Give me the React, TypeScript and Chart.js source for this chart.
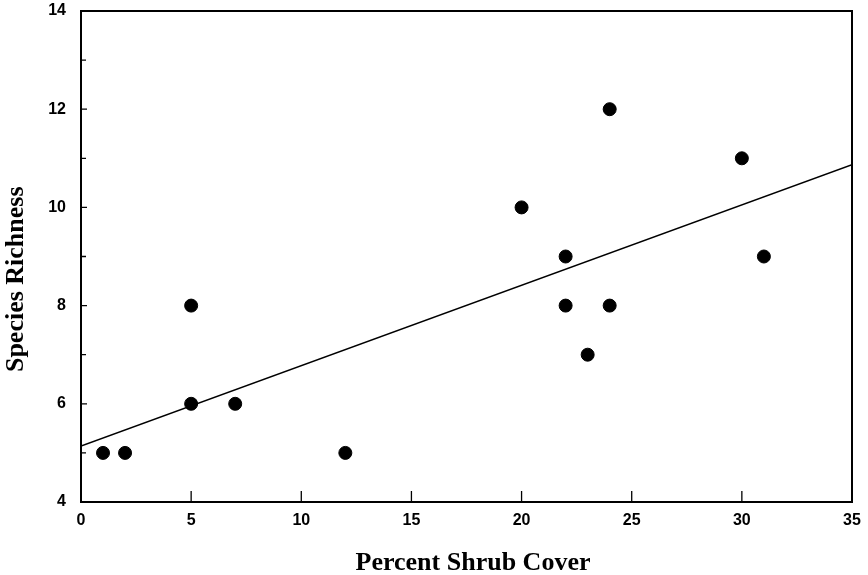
import React, { useEffect, useRef } from "react";
import { Chart, registerables } from "chart.js";

Chart.register(...registerables);

const shrubCover = [1, 2, 5, 5, 7, 12, 20, 22, 22, 23, 24, 24, 30, 31];
const speciesRichness = [5, 5, 8, 6, 6, 5, 10, 9, 8, 7, 12, 8, 11, 9];
const trendX = [0, 35];
const trendY = [5.14, 10.87];
const xTicks = [0, 5, 10, 15, 20, 25, 30, 35];
const yTicks = [4, 6, 8, 10, 12, 14];
const yMinorTicks = [5, 7, 9, 11, 13];
const xTitle = "Percent Shrub Cover";
const yTitle = "Species Richness";

const frame = {
  id: "frame",
  afterDatasetsDraw(chart: any) {
    const { ctx, chartArea: a, scales } = chart;
    ctx.save();
    ctx.strokeStyle = "#000";
    ctx.lineWidth = 2;
    ctx.strokeRect(a.left, a.top, a.right - a.left, a.bottom - a.top);
    ctx.lineWidth = 1.3;
    ctx.beginPath();
    for (const v of xTicks) {
      const px = scales.x.getPixelForValue(v);
      ctx.moveTo(px, a.bottom);
      ctx.lineTo(px, a.bottom - 11);
    }
    for (const v of yTicks) {
      const py = scales.y.getPixelForValue(v);
      ctx.moveTo(a.left, py);
      ctx.lineTo(a.left + 6, py);
    }
    for (const v of yMinorTicks) {
      const py = scales.y.getPixelForValue(v);
      ctx.moveTo(a.left, py);
      ctx.lineTo(a.left + 5, py);
    }
    ctx.stroke();
    ctx.restore();
  },
};

export default function App() {
  const ref = useRef<HTMLCanvasElement>(null);
  useEffect(() => {
    document.body.style.margin = "0";
    const chart = new Chart(ref.current!, {
      type: "scatter",
      data: {
        datasets: [
          {
            type: "line",
            data: trendX.map((x, i) => ({ x, y: trendY[i] })),
            borderColor: "#000",
            borderWidth: 1.6,
            pointRadius: 0,
            fill: false,
          },
          {
            data: shrubCover.map((x, i) => ({ x, y: speciesRichness[i] })),
            backgroundColor: "#000",
            borderColor: "#000",
            pointRadius: 6.5,
            pointHoverRadius: 6.5,
          },
        ],
      },
      options: {
        animation: false,
        responsive: false,
        events: [],
        layout: { padding: { top: 11, right: 16, bottom: 0, left: 0 } },
        plugins: { legend: { display: false }, tooltip: { enabled: false } },
        scales: {
          x: {
            type: "linear",
            min: 0,
            max: 35,
            afterBuildTicks: (s: any) => {
              s.ticks = xTicks.map((v) => ({ value: v }));
            },
            afterFit: (s: any) => {
              s.height = 73;
              s.paddingLeft = 0;
              s.paddingRight = 0;
            },
            grid: { display: false, drawTicks: false },
            border: { display: false },
            ticks: {
              color: "#000",
              padding: 9,
              font: { family: "'Liberation Sans', Arial", size: 16, weight: "bold" },
            },
            title: {
              display: true,
              text: "  " + xTitle,
              color: "#000",
              padding: { top: 0, bottom: -4 },
              font: { family: "'Liberation Serif', 'Times New Roman'", size: 26, weight: "bold" },
            },
          },
          y: {
            type: "linear",
            min: 4,
            max: 14,
            afterBuildTicks: (s: any) => {
              s.ticks = yTicks.map((v) => ({ value: v }));
            },
            afterFit: (s: any) => {
              s.width = 81;
              s.paddingTop = 0;
              s.paddingBottom = 0;
            },
            grid: { display: false, drawTicks: false },
            border: { display: false },
            ticks: {
              color: "#000",
              padding: 15,
              font: { family: "'Liberation Sans', Arial", size: 16, weight: "bold" },
            },
            title: {
              display: true,
              text: yTitle + "       ",
              color: "#000",
              padding: { top: 1, bottom: 0 },
              font: { family: "'Liberation Serif', 'Times New Roman'", size: 26, weight: "bold" },
            },
          },
        },
      },
      plugins: [frame],
    });
    return () => chart.destroy();
  }, []);
  return <canvas ref={ref} width={868} height={575} style={{ display: "block" }} />;
}
